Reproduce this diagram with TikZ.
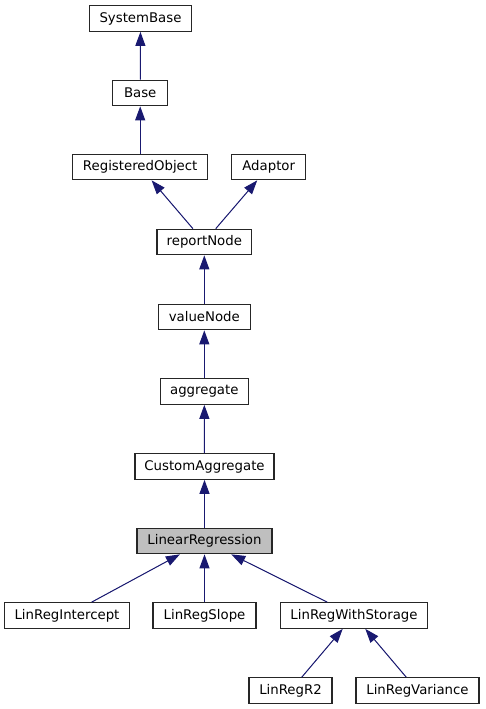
\documentclass[tikz,border=0pt]{standalone}
\usepackage{fontspec}
\setmainfont{DejaVu Sans}
\usepackage{tikz}
\usetikzlibrary{arrows.meta}
\definecolor{edgeblue}{RGB}{25,25,112}
\definecolor{boxgray}{RGB}{191,191,191}
\tikzset{>={Triangle[length=14pt,width=10pt]}}

\begin{document}
\begin{tikzpicture}[x=1pt,y=-1pt,
	font=\fontsize{13.3pt}{16pt}\selectfont,
	cls/.style={draw=black!85,line width=1.2pt,fill=white,inner sep=0pt,minimum height=25.5pt},
	inh/.style={<-,draw=edgeblue,fill=edgeblue,line width=1pt}]
	\useasboundingbox (0,0) rectangle (485,709);
	\node[cls,minimum width=102.4pt] (sysbase) at (140.5,18.5) {SystemBase};
	\node[cls,minimum width=55pt] (base) at (140.2,93) {Base};
	\node[cls,minimum width=135pt] (regobj) at (140.2,167) {RegisteredObject};
	\node[cls,minimum width=74pt] (adaptor) at (268.7,167) {Adaptor};
	\node[cls,minimum width=94.7pt] (report) at (204.3,242) {reportNode};
	\node[cls,minimum width=92pt] (value) at (204.3,317) {valueNode};
	\node[cls,minimum width=88pt] (aggr) at (204.3,391.5) {aggregate};
	\node[cls,minimum width=139pt] (custaggr) at (204.5,466.5) {CustomAggregate};
	\node[cls,minimum width=135pt,fill=boxgray] (linreg) at (204.5,541) {LinearRegression};
	\node[cls,minimum width=124.5pt] (intercept) at (67,615.5) {LinRegIntercept};
	\node[cls,minimum width=103pt] (slope) at (204.5,615.5) {LinRegSlope};
	\node[cls,minimum width=146.5pt] (storage) at (354,615.5) {LinRegWithStorage};
	\node[cls,minimum width=83pt] (rsq) at (290.5,690.5) {LinRegR2};
	\node[cls,minimum width=123pt] (variance) at (417.5,690.5) {LinRegVariance};
	% inheritance arrows
	\draw[inh] (sysbase)--(base);
	\draw[inh] (base)--(regobj);
	\draw[inh] (regobj)--(report);
	\draw[inh] (adaptor)--(report);
	\draw[inh] (report)--(value);
	\draw[inh] (value)--(aggr);
	\draw[inh] (aggr)--(custaggr);
	\draw[inh] (custaggr)--(linreg);
	\draw[inh] (linreg)--(intercept);
	\draw[inh] (linreg)--(slope);
	\draw[inh] (linreg)--(storage);
	\draw[inh] (storage)--(rsq);
	\draw[inh] (storage)--(variance);
\end{tikzpicture}
\end{document}
